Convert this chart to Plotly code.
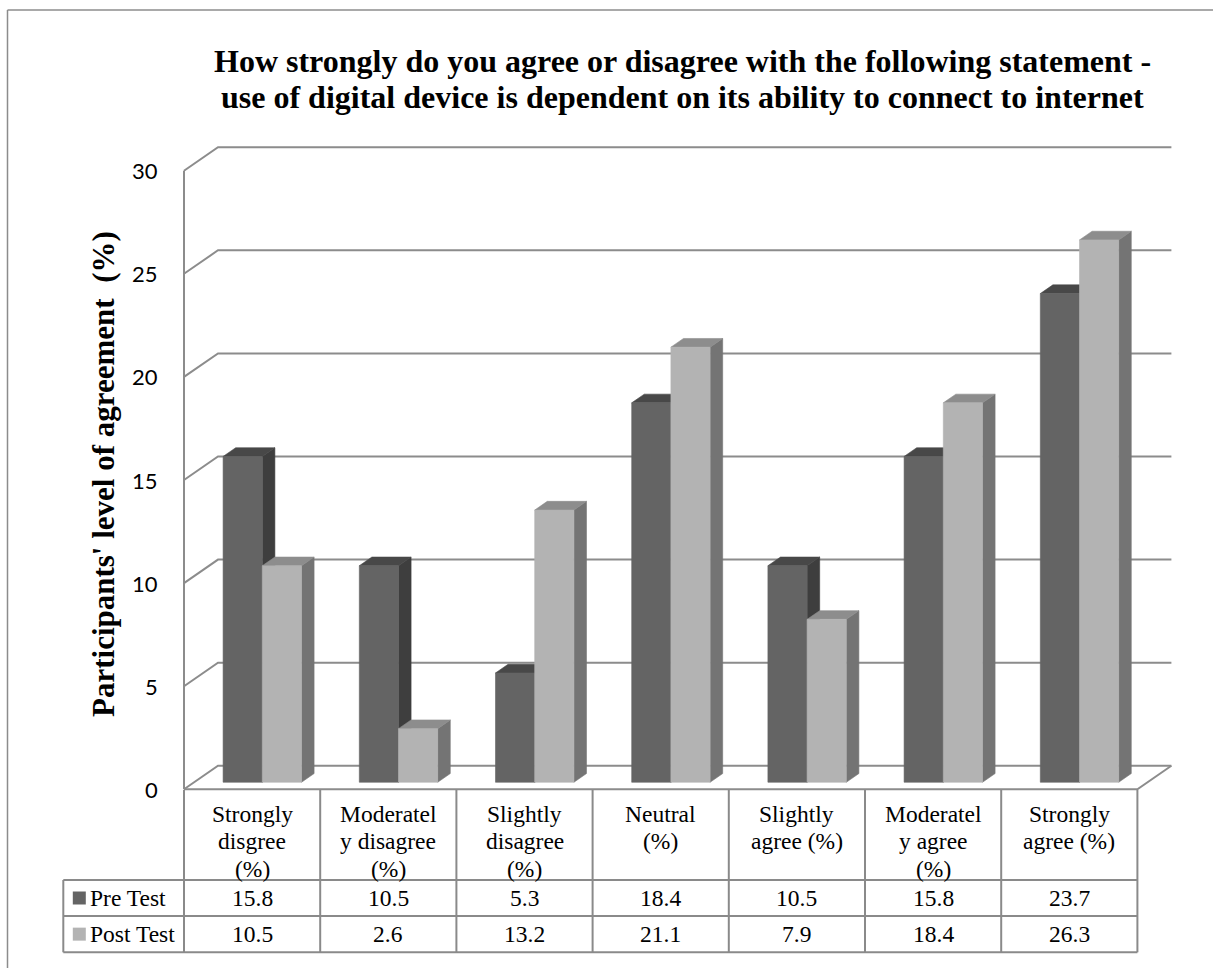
import plotly.graph_objects as go

# ---- data -------------------------------------------------------------
categories = [
    "Strongly<br>disgree<br>(%)",
    "Moderatel<br>y disagree<br>(%)",
    "Slightly<br>disagree<br>(%)",
    "Neutral<br>(%)",
    "Slightly<br>agree (%)",
    "Moderatel<br>y agree<br>(%)",
    "Strongly<br>agree (%)",
]
series_names = ["Pre Test", "Post Test"]
pre_test = [15.8, 10.5, 5.3, 18.4, 10.5, 15.8, 23.7]
post_test = [10.5, 2.6, 13.2, 21.1, 7.9, 18.4, 26.3]
y_ticks = [0, 5, 10, 15, 20, 25, 30]
title_lines = [
    "How strongly do you agree or disagree with the following statement -",
    "use of digital device is dependent on its ability to connect to internet",
]
y_title = "Participants' level of agreement\u00a0 (%)"

# ---- frame --------------------------------------------------------------
W, H = 1213, 968
X0_PX, UNIT_X_PX = 184.0, 136.2     # category axis origin / one category width
Y0_PX, UNIT_Y_PX = 789.3, 20.62     # value 0 on the front plane / px per unit


def xu(px):
    return (px - X0_PX) / UNIT_X_PX


def yv(px):
    return (Y0_PX - px) / UNIT_Y_PX


def px_x(p):
    return p / W


def px_y(p):
    return 1 - p / H


# oblique depth of the floor, in axis units
DX = 34.0 / UNIT_X_PX
DY = 23.5 / UNIT_Y_PX
F0, FD = 0.30, 0.37          # bar front position and bar depth (fraction of floor depth)
BAR_W = 39.2 / UNIT_X_PX
N = len(categories)
Y_MAX = y_ticks[-1]

GRID = "#8c8c8c"
TABLE_LINE = "#8a8a8a"
FONT_SERIF = "Liberation Serif"
COLORS = {
    "Pre Test": {"front": "#646464", "side": "#3e3e3e", "top": "#484848"},
    "Post Test": {"front": "#b3b3b3", "side": "#747474", "top": "#8d8d8d"},
}

fig = go.Figure()

# ---- walls, floor and gridlines ----------------------------------------
gx, gy = [], []
for t in y_ticks:
    gx += [0, DX, N + DX, None]
    gy += [t, t + DY, t + DY, None]
# value axis on the front plane
gx += [0, 0, None]
gy += [0, Y_MAX, None]
# floor front and right edges
gx += [0, N, N + DX, None]
gy += [0, 0, DY, None]
fig.add_trace(go.Scatter(x=gx, y=gy, mode="lines",
                         line=dict(color=GRID, width=2), hoverinfo="skip"))


# ---- 3D columns ----------------------------------------------------------
def faces(xl, xr, v):
    yb = F0 * DY
    yt = v + F0 * DY
    ddx, ddy = FD * DX, FD * DY
    front = [(xl, yb), (xr, yb), (xr, yt), (xl, yt)]
    side = [(xr, yb), (xr + ddx, yb + ddy), (xr + ddx, yt + ddy), (xr, yt)]
    top = [(xl, yt), (xr, yt), (xr + ddx, yt + ddy), (xl + ddx, yt + ddy)]
    return {"front": front, "side": side, "top": top}


for s_idx, (name, values) in enumerate(zip(series_names, [pre_test, post_test])):
    polys = {"side": ([], []), "top": ([], []), "front": ([], [])}
    for i, v in enumerate(values):
        c = i + 0.5 + F0 * DX
        xl = c - BAR_W + s_idx * BAR_W
        xr = xl + BAR_W
        for face, pts in faces(xl, xr, v).items():
            xs, ys = polys[face]
            xs += [p[0] for p in pts] + [pts[0][0], None]
            ys += [p[1] for p in pts] + [pts[0][1], None]
    for face in ["side", "top", "front"]:
        xs, ys = polys[face]
        col = COLORS[name][face]
        fig.add_trace(go.Scatter(x=xs, y=ys, mode="lines", fill="toself",
                                 fillcolor=col, line=dict(color=col, width=0.6),
                                 hoverinfo="skip", name=name))

# ---- data table ----------------------------------------------------------
HEADER_BOTTOM, ROW1_BOTTOM, ROW2_BOTTOM = 880.0, 916.0, 952.3
TABLE_TOP = 790.0
LEGEND_LEFT = 63.3

tx, ty = [], []
for b in [HEADER_BOTTOM, ROW1_BOTTOM, ROW2_BOTTOM]:
    tx += [xu(LEGEND_LEFT), N, None]
    ty += [yv(b), yv(b), None]
for i in range(N + 1):
    tx += [i, i, None]
    ty += [yv(TABLE_TOP), yv(ROW2_BOTTOM), None]
tx += [xu(LEGEND_LEFT), xu(LEGEND_LEFT), None]
ty += [yv(HEADER_BOTTOM), yv(ROW2_BOTTOM), None]
fig.add_trace(go.Scatter(x=tx, y=ty, mode="lines",
                         line=dict(color=TABLE_LINE, width=2), hoverinfo="skip"))

row_centers = [(HEADER_BOTTOM + ROW1_BOTTOM) / 2, (ROW1_BOTTOM + ROW2_BOTTOM) / 2]

# legend keys inside the table
fig.add_trace(go.Scatter(
    x=[xu(79.3)] * 2, y=[yv(r) for r in row_centers], mode="markers",
    marker=dict(symbol="square", size=13,
                color=[COLORS[n]["front"] for n in series_names], line=dict(width=0)),
    hoverinfo="skip"))

annotations = []
TABLE_FONT = dict(family=FONT_SERIF, size=23.5, color="#000000")
for r, name in zip(row_centers, series_names):
    annotations.append(dict(x=xu(87.5), y=yv(r), xref="x", yref="y", text=name,
                            showarrow=False, xanchor="left", yanchor="middle",
                            font=TABLE_FONT))

LINE_GAP = 27.6
for i, label in enumerate(categories):
    for k, part in enumerate(label.split("<br>")):
        annotations.append(dict(x=i + 0.5, y=yv(813.5 + LINE_GAP * k), xref="x", yref="y",
                                text=part, showarrow=False, xanchor="center",
                                yanchor="middle", font=TABLE_FONT))

for r, values in zip(row_centers, [pre_test, post_test]):
    for i, v in enumerate(values):
        annotations.append(dict(x=i + 0.5, y=yv(r), xref="x", yref="y",
                                text=f"{v:.1f}", showarrow=False, xanchor="center",
                                yanchor="middle", font=TABLE_FONT))

# value axis labels
for t in y_ticks:
    annotations.append(dict(x=xu(160), y=t, xref="x", yref="y", text=str(t),
                            showarrow=False, xanchor="right", yanchor="middle",
                            font=dict(family="Lato", size=22, color="#000000")))

# titles
for k, line in enumerate(title_lines):
    annotations.append(dict(x=px_x(682), y=px_y(61 + 36 * k), xref="paper", yref="paper",
                            text=f"<b>{line}</b>", showarrow=False, xanchor="center",
                            yanchor="middle",
                            font=dict(family=FONT_SERIF, size=32, color="#000000")))
annotations.append(dict(x=px_x(103), y=px_y(474), xref="paper", yref="paper",
                        text=f"<b>{y_title}</b>", showarrow=False, textangle=-90,
                        xanchor="center", yanchor="middle",
                        font=dict(family=FONT_SERIF, size=31, color="#000000")))

# chart border: top and left edges (the others fall outside the page)
border = dict(color="#8c8c8c", width=1.5)
shapes = [
    dict(type="line", xref="paper", yref="paper", x0=px_x(7.5), x1=1.0,
         y0=px_y(10), y1=px_y(10), line=border, layer="below"),
    dict(type="line", xref="paper", yref="paper", x0=px_x(7.5), x1=px_x(7.5),
         y0=px_y(10), y1=0.0, line=border, layer="below"),
]

fig.update_layout(
    width=W, height=H,
    margin=dict(l=0, r=0, t=0, b=0),
    paper_bgcolor="white", plot_bgcolor="white",
    showlegend=False, hovermode=False,
    xaxis=dict(range=[xu(0), xu(W)], visible=False, fixedrange=True),
    yaxis=dict(range=[yv(H), yv(0)], visible=False, fixedrange=True),
    annotations=annotations,
    shapes=shapes,
)

fig.write_html("out.html")
